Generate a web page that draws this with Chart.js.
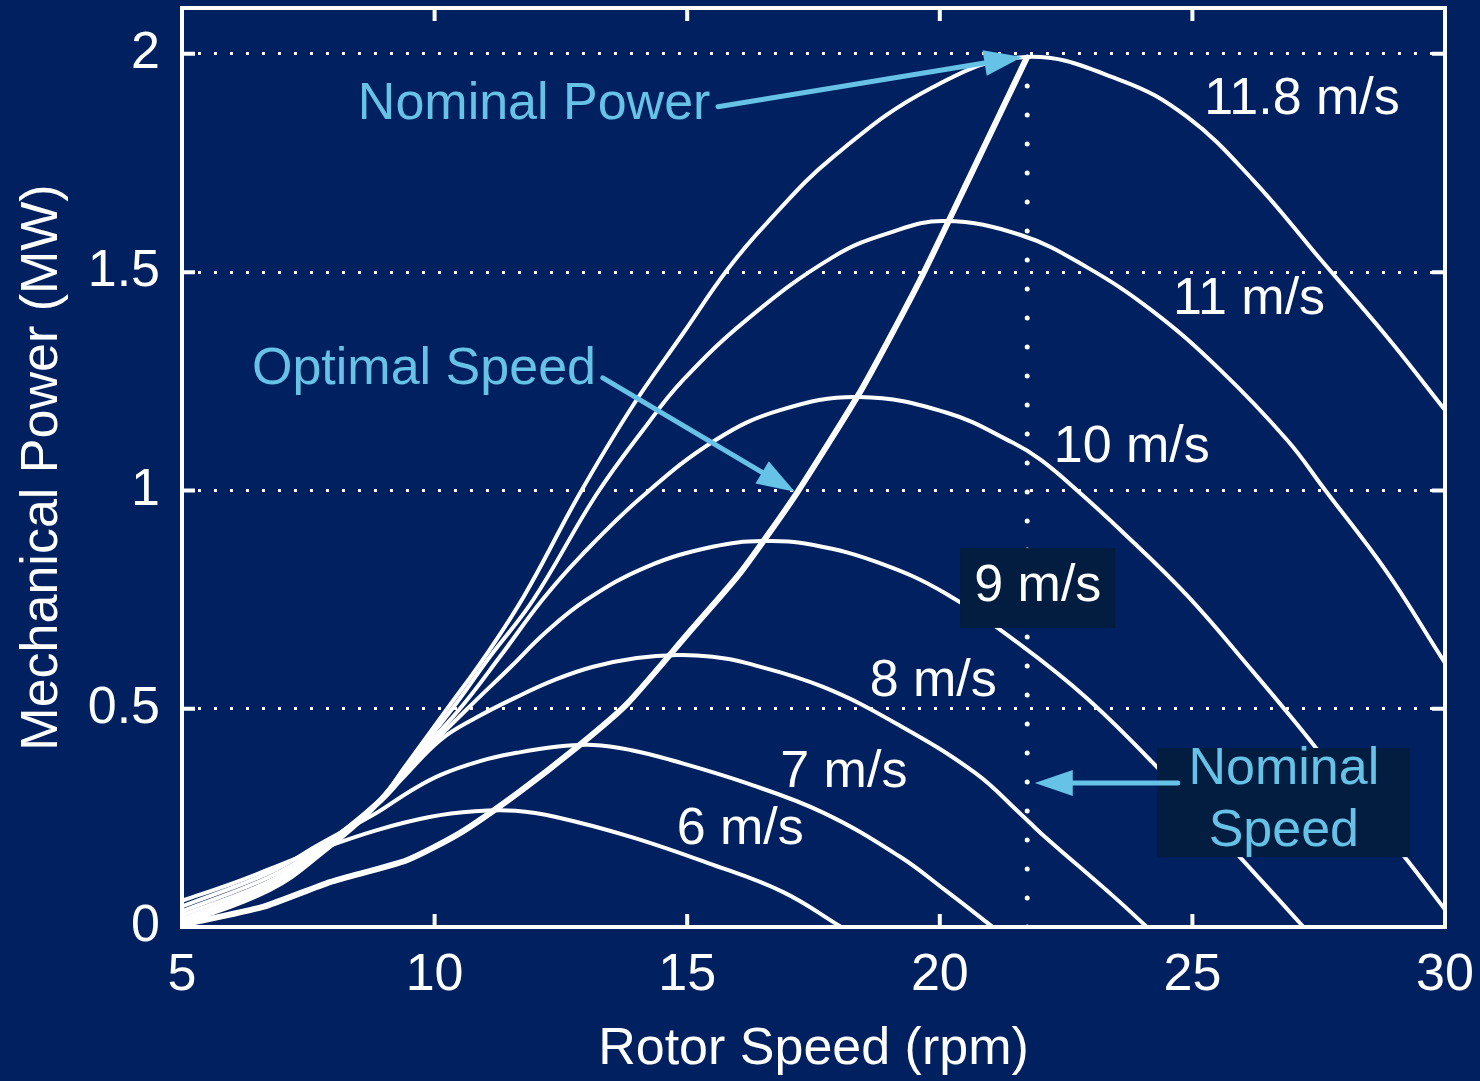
<!DOCTYPE html>
<html>
<head>
<meta charset="utf-8">
<script src="https://cdn.jsdelivr.net/npm/chart.js@4.4.0/dist/chart.umd.min.js"></script>
<style>
  html, body { margin: 0; padding: 0; background: #002060; }
  #wrap { width: 1480px; height: 1081px; }
</style>
</head>
<body>
<div id="wrap"><canvas id="powerChart" width="1480" height="1081"></canvas></div>
<script>
// tick values
const xTicks = [5, 10, 15, 20, 25, 30];
const yTicks = [0, 0.5, 1, 1.5, 2];

// rated rotor speed (rpm), where the dotted vertical line sits
const nominalSpeed = 21.73;

// power curves: [rotor speed rpm, power MW]
const curve6 = [[5,0.06],[6,0.1],[6.74,0.133],[7.73,0.178],[8.86,0.222],[9.9,0.252],[10.8,0.265],[11.6,0.266],[12.4,0.252],[13.9,0.206],[15.4,0.147],[16.9,0.08],[18.05,0]];
const curve7 = [[5,0.047],[6.74,0.125],[7.73,0.19],[8.86,0.262],[9.5,0.31],[10.11,0.348],[10.9,0.38],[11.63,0.399],[12.4,0.413],[13.14,0.417],[13.9,0.405],[14.66,0.383],[16.16,0.33],[17.69,0.262],[19.2,0.162],[20.1,0.085],[21.05,0]];
const curve8 = [[5,0.036],[6.74,0.115],[7.73,0.183],[8.86,0.28],[9.4,0.345],[10.11,0.428],[10.8,0.478],[11.63,0.527],[12.4,0.567],[13.14,0.596],[14.0,0.616],[14.8,0.623],[15.5,0.619],[16.16,0.605],[17.69,0.55],[19.2,0.462],[20.7,0.353],[21.6,0.259],[22.0,0.215],[23.45,0.069],[24.1,0]];
const curve9 = [[5,0.027],[6.74,0.105],[7.73,0.18],[8.86,0.285],[9.4,0.355],[10.65,0.5],[11.5,0.595],[12.2,0.675],[13.0,0.749],[14.2,0.825],[15.5,0.871],[16.5,0.884],[17.5,0.875],[18.8,0.834],[20.1,0.765],[21.6,0.646],[22.9,0.525],[24.2,0.378],[25.9,0.165],[27.2,0]];
const curve10 = [[5,0.018],[6.74,0.097],[7.73,0.175],[8.86,0.285],[9.4,0.36],[10.5,0.5],[11.3,0.62],[12.13,0.749],[12.88,0.848],[14.1,0.985],[15.57,1.116],[16.84,1.184],[18.4,1.214],[20.14,1.178],[21.45,1.109],[22.0,1.07],[22.72,1.0],[23.57,0.91],[24.89,0.76],[26.2,0.585],[27.03,0.47],[28.0,0.33],[29.17,0.165],[30,0.04]];
const curve11 = [[5,0.011],[6.74,0.09],[7.73,0.17],[8.86,0.283],[9.4,0.362],[10.35,0.5],[11.1,0.62],[11.95,0.749],[13.2,0.99],[14.13,1.139],[14.92,1.253],[16.24,1.397],[17.89,1.535],[19.0,1.59],[20.1,1.617],[21.6,1.585],[22.9,1.512],[24.22,1.41],[25.55,1.276],[26.87,1.116],[27.6,1.005],[28.85,0.813],[29.9,0.623],[30,0.605]];
const curve118 = [[5,0.006],[6.74,0.085],[7.73,0.165],[8.86,0.28],[9.4,0.365],[10.25,0.5],[11.0,0.62],[11.78,0.76],[12.86,0.99],[13.9,1.19],[14.92,1.36],[15.79,1.505],[16.58,1.613],[17.89,1.764],[19.87,1.924],[21.7,1.993],[23.57,1.94],[24.89,1.856],[26.2,1.711],[27.53,1.53],[28.85,1.352],[30,1.184]];
// optimal-speed trajectory (peak power points)
const optimalCurve = [[5,0.005],[6.6,0.046],[7.93,0.103],[9.45,0.153],[10.5,0.215],[11.65,0.307],[12.82,0.412],[13.8,0.51],[15.0,0.67],[16.05,0.811],[17.17,0.994],[18.48,1.237],[19.61,1.482],[20.6,1.72],[21.73,1.993]];

const windCurves = [curve6, curve7, curve8, curve9, curve10, curve11, curve118];

const bgColor = '#002060';
const boxColor = '#021d40';
const noteColor = '#67c2e7';
const fontFamily = '"Liberation Sans", Arial, sans-serif';

Chart.defaults.font.family = fontFamily;
Chart.defaults.color = '#fff';

// text placed in data units
const curveLabels = [
  { text: '11.8 m/s', x: 27.17, y: 1.895 },
  { text: '11 m/s', x: 26.12, y: 1.436 },
  { text: '10 m/s', x: 23.8, y: 1.097 },
  { text: '9 m/s', x: 21.94, y: 0.779 },
  { text: '8 m/s', x: 19.87, y: 0.561 },
  { text: '7 m/s', x: 18.1, y: 0.353 },
  { text: '6 m/s', x: 16.05, y: 0.222 }
];
const notes = [
  { text: 'Nominal Power', x: 11.97, y: 1.883 },
  { text: 'Optimal Speed', x: 9.79, y: 1.276 },
  { text: 'Nominal', x: 26.81, y: 0.36 },
  { text: 'Speed', x: 26.81, y: 0.218 }
];
const boxes = [
  { x0: 20.4, x1: 23.47, y0: 0.685, y1: 0.868 },
  { x0: 24.3, x1: 29.31, y0: 0.16, y1: 0.41 }
];
const arrows = [
  { from: [15.61, 1.879], to: [21.63, 1.993] },
  { from: [13.33, 1.258], to: [17.13, 0.997] },
  { from: [24.71, 0.33], to: [21.88, 0.33] }
];

function toPoints(pairs) {
  return pairs.map(p => ({ x: p[0], y: p[1] }));
}

function drawArrow(ctx, x1, y1, x2, y2) {
  const ang = Math.atan2(y2 - y1, x2 - x1);
  const headLen = 38, headHalf = 13;
  const bx = x2 - headLen * Math.cos(ang), by = y2 - headLen * Math.sin(ang);
  ctx.beginPath();
  ctx.moveTo(x1, y1);
  ctx.lineTo(bx, by);
  ctx.stroke();
  ctx.beginPath();
  ctx.moveTo(x2, y2);
  ctx.lineTo(bx + headHalf * Math.sin(ang), by - headHalf * Math.cos(ang));
  ctx.lineTo(bx - headHalf * Math.sin(ang), by + headHalf * Math.cos(ang));
  ctx.closePath();
  ctx.fill();
}

const decorPlugin = {
  id: 'decor',
  beforeDraw(chart) {
    const ctx = chart.ctx;
    ctx.save();
    ctx.fillStyle = bgColor;
    ctx.fillRect(0, 0, chart.width, chart.height);
    ctx.restore();
  },
  afterDatasetsDraw(chart) {
    const { ctx, chartArea: a } = chart;
    const x = chart.scales.x, y = chart.scales.y;
    ctx.save();

    // dark label boxes
    ctx.fillStyle = boxColor;
    boxes.forEach(b => {
      const px0 = x.getPixelForValue(b.x0), px1 = x.getPixelForValue(b.x1);
      const py0 = y.getPixelForValue(b.y1), py1 = y.getPixelForValue(b.y0);
      ctx.fillRect(px0, py0, px1 - px0, py1 - py0);
    });

    // axes box with inward ticks
    ctx.strokeStyle = '#fff';
    ctx.lineWidth = 4;
    ctx.strokeRect(a.left, a.top, a.right - a.left, a.bottom - a.top);
    ctx.beginPath();
    xTicks.forEach(v => {
      const px = x.getPixelForValue(v);
      ctx.moveTo(px, a.bottom); ctx.lineTo(px, a.bottom - 13);
      ctx.moveTo(px, a.top); ctx.lineTo(px, a.top + 13);
    });
    yTicks.forEach(v => {
      const py = y.getPixelForValue(v);
      ctx.moveTo(a.left, py); ctx.lineTo(a.left + 13, py);
      ctx.moveTo(a.right, py); ctx.lineTo(a.right - 13, py);
    });
    ctx.stroke();

    // curve labels
    ctx.font = '52px ' + fontFamily;
    ctx.textAlign = 'center';
    ctx.textBaseline = 'middle';
    ctx.fillStyle = '#fff';
    curveLabels.forEach(l => {
      ctx.fillText(l.text, x.getPixelForValue(l.x), y.getPixelForValue(l.y));
    });

    // annotations
    ctx.fillStyle = noteColor;
    notes.forEach(n => {
      ctx.fillText(n.text, x.getPixelForValue(n.x), y.getPixelForValue(n.y));
    });
    ctx.strokeStyle = noteColor;
    ctx.lineWidth = 5;
    ctx.lineCap = 'round';
    arrows.forEach(ar => {
      drawArrow(ctx,
        x.getPixelForValue(ar.from[0]), y.getPixelForValue(ar.from[1]),
        x.getPixelForValue(ar.to[0]), y.getPixelForValue(ar.to[1]));
    });
    ctx.restore();
  }
};

const datasets = windCurves.map(c => ({
  data: toPoints(c),
  borderColor: '#fff',
  borderWidth: 4,
  pointRadius: 0,
  fill: false,
  tension: 0.4
}));
datasets.push({
  data: toPoints(optimalCurve),
  borderColor: '#fff',
  borderWidth: 6,
  pointRadius: 0,
  fill: false,
  tension: 0.2
});
datasets.push({
  data: [{ x: nominalSpeed, y: 0 }, { x: nominalSpeed, y: 2 }],
  borderColor: '#fff',
  borderWidth: 5,
  borderDash: [0, 29],
  borderCapStyle: 'round',
  pointRadius: 0,
  fill: false
});

const chart = new Chart(document.getElementById('powerChart').getContext('2d'), {
  type: 'line',
  data: { datasets: datasets },
  options: {
    responsive: false,
    animation: false,
    devicePixelRatio: 1,
    layout: { padding: { top: 8, right: 35, left: 0, bottom: 0 } },
    plugins: {
      legend: { display: false },
      tooltip: { enabled: false }
    },
    scales: {
      x: {
        type: 'linear',
        min: 5,
        max: 30,
        afterBuildTicks: s => { s.ticks = xTicks.map(v => ({ value: v })); },
        afterFit: s => {
          s.height = 154;
          s.paddingLeft = 0;
          s.paddingRight = 0;
        },
        grid: { display: false, drawTicks: false },
        border: { display: false },
        ticks: {
          color: '#fff',
          font: { size: 52 },
          padding: 17,
          maxRotation: 0,
          autoSkip: false,
          callback: v => String(v)
        },
        title: {
          display: true,
          text: 'Rotor Speed (rpm)',
          color: '#fff',
          font: { size: 52 },
          padding: { top: 0, bottom: 0 }
        }
      },
      y: {
        type: 'linear',
        min: 0,
        max: 2.105,
        afterBuildTicks: s => { s.ticks = yTicks.map(v => ({ value: v })); },
        afterFit: s => {
          s.width = 182;
          s.paddingTop = 0;
          s.paddingBottom = 0;
        },
        grid: {
          drawTicks: false,
          lineWidth: 3,
          color: c => (c.tick && c.tick.value === 0) ? 'rgba(0,0,0,0)' : '#fff'
        },
        border: { display: false, dash: [3, 13] },
        ticks: {
          color: '#fff',
          font: { size: 52 },
          padding: 22,
          callback: v => String(v)
        },
        title: {
          display: true,
          text: 'Mechanical Power (MW)',
          color: '#fff',
          font: { size: 52 },
          padding: { top: 11, bottom: 0 }
        }
      }
    }
  },
  plugins: [decorPlugin]
});
</script>
</body>
</html>
